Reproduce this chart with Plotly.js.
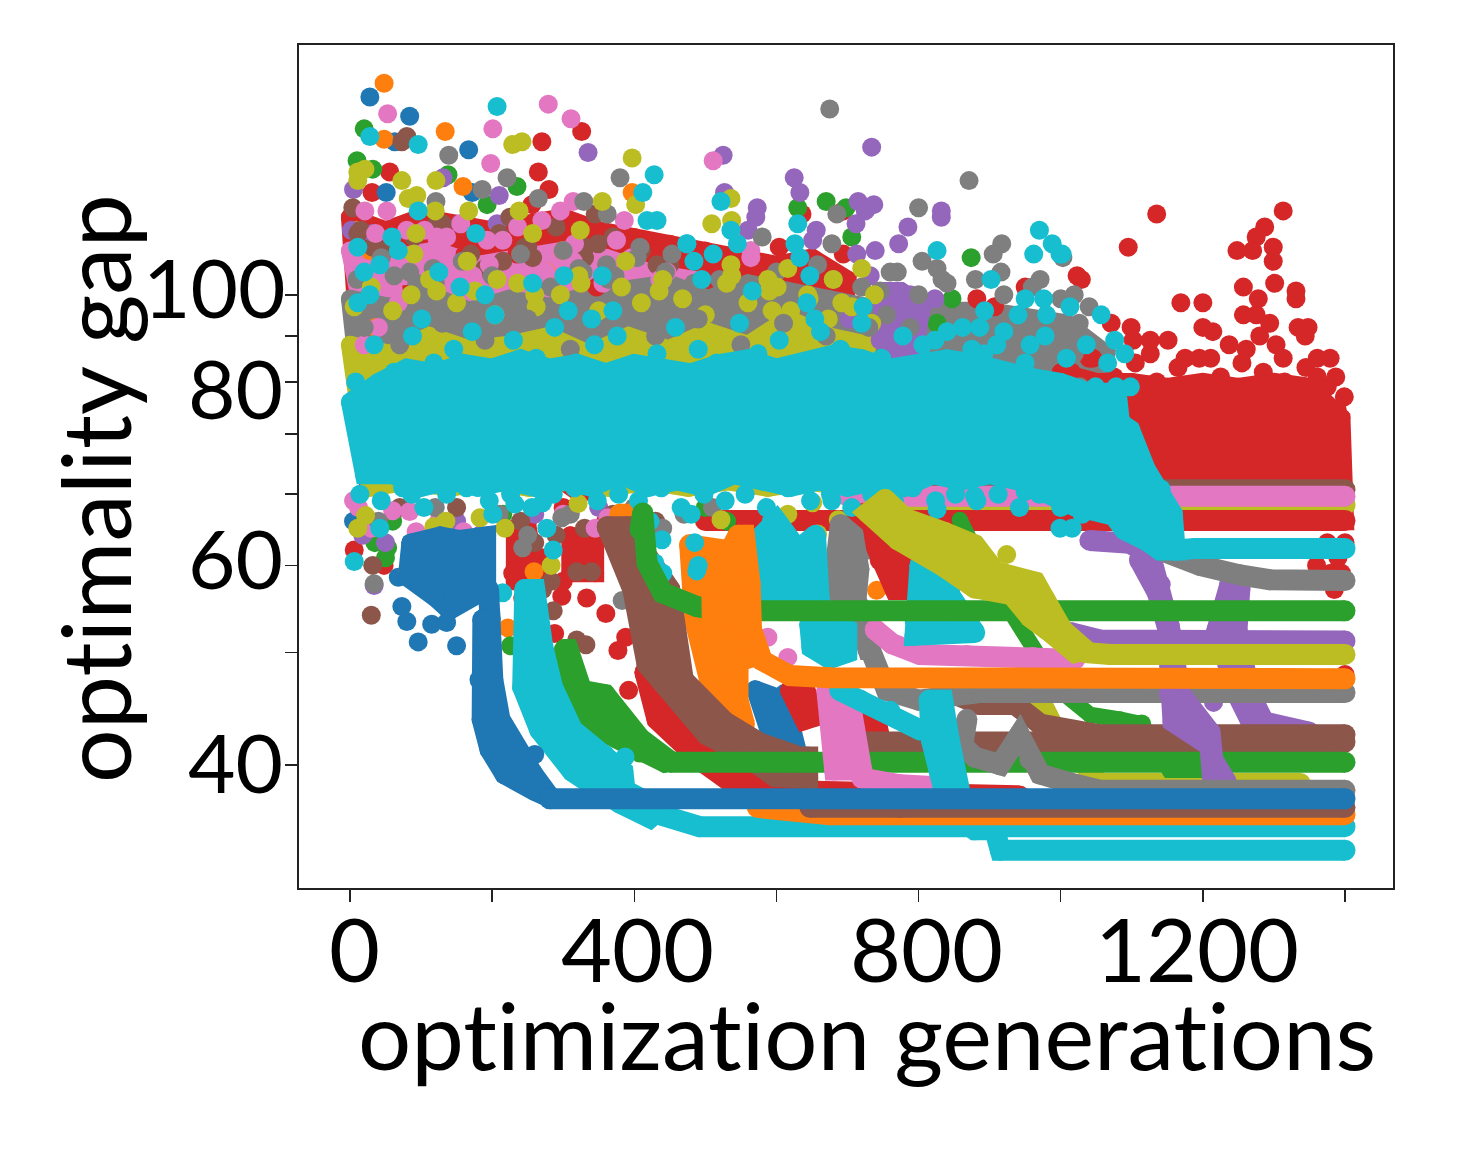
<!DOCTYPE html>
<html><head><meta charset="utf-8"><script src="https://cdn.plot.ly/plotly-3.0.1.min.js"></script>
<style>html,body{margin:0;padding:0;background:#fff} svg text{font-variant-ligatures:none;font-feature-settings:"liga" 0}</style></head><body><div id="chart"></div>
<script>
const xTickVals=[0,200,400,600,800,1000,1200,1400];
const yTickVals=[30,40,50,60,70,80,90,100];
const xLabels=['0','400','800','1200'];
const yLabels=['100','80','60','40'];
const xAxisTitle='optimization generations';
const yAxisTitle='optimality gap';
const C={blue:'#1f77b4',orange:'#ff7f0e',green:'#2ca02c',red:'#d62728',purple:'#9467bd',brown:'#8c564b',pink:'#e377c2',gray:'#7f7f7f',olive:'#bcbd22',cyan:'#17becf'};

// envelopes of the crowded generations (alternating upper and lower reading)
const redFillX=[0,25,50,75,100,125,150,175,200,225,250,275,300,325,350,375,400,425,450,475,500,525,550,575,600,625,650,675,700];
const redFillY=[122,62,118,64,122,62,120,66,118,62,120,64,122,60,118,64,116,62,114,64,112,62,110,65,108,62,110,64,104];
const redLowAX=[232,250,232,265];const redLowAY=[55,55,48,48];
const redLowBX=[310,345,310,345];const redLowBY=[54,53,49,49];
const pinkFillX=[0,30,60,90,120,150,180,210,240,270,300,330,360,390,420,450,480];
const pinkFillY=[112,86,110,84,112,85,108,86,110,84,112,85,110,86,106,85,104];
const grayFillX=[0,28,56,84,112,140,168,196,224,252,280,308,336,364,392,420,448,476,504,532,560,588,616,644,672,700,728,756,784,812,840,868,896,924,952,980,1008,1036,1064];
const grayFillY=[99,62,97,63,100,62,96,64,99,62,97,63,100,62,101,64,103,62,99,63,103,62,101,64,99,62,97,63,99,62,96,64,96,62,94,64,93,66,86];
const oliveFillX=[0,28,56,84,112,140,168,196,224,252,280,308,336,364,392,420,448,476,504,532,560,588,616,644,672,700,728];
const oliveFillY=[88,61,86,62,90,61,87,62,88,61,90,62,86,61,90,62,87,61,91,62,88,61,94,62,90,61,88];
const purpleFillX=[745,760,775,790,805];
const purpleFillY=[101,85,101,84,97];
const redBandX=[1000,1025,1050,1075,1100,1125,1150,1175,1200,1225,1250,1275,1300,1325,1350,1375,1395,1400];
const redBandY=[82,56,80,56,80,56,79,56,80,56,79,56,80,56,79,56,73,56];
const redEndX=[1360,1380,1390,1400,1395,1385,1400,1375];
const redEndY=[50,49,51,53,49,47,37.8,53];

// scattered points per colour
const redDotsX=[270,326,265,280,56,31,256,235,636,694,604,694,882,1023,950,907,162,235,56,87,347,6,48,162,243,298,333,265,288,360,377,392,388,229,536,536,1135,1095,1029,1313,1287,1275,1248,1270,1299,1299,1301,1331,1331,1257,1278,1169,1200,1257,1275,1294,1200,1214,1334,1348,1344,1237,1099,1071,1102,1126,1151,1126,1175,1211,1261,1280,1303,1313,1361,1379,1387,1399,1040,1389,1361];
const redDotsY=[148,152,137,131,137,130,126,118,123,124,113,111,99,105,102,97,111,111,113,102,102,52,50,47.6,46,46.2,46,42,42,44.2,40.2,36.3,41.6,49,34.9,33.8,123,113,104,124,119,116,112,112,113,109,103,101,99,102,99,98,98,95,95,93,92,91,92,92,90,88,92,93,89,89,89,86,85,85,87,90,88,85,85,85,81,77,85,74.5,81];
const redEdgeX=[1015,1045,1075,1105,1135,1165,1195,1225,1255,1285,1315,1345,1375];
const redEdgeY=[82,85,81,84,80,83,85,81,84,82,80,83,79];
const redLowMixX=[250,270,300,330,360,300,340];
const redLowMixY=[56,51,58,52,56,48,50];
const blueDotsX=[28,84,63,167,51,172,5,73,80,96,115,136,150,68,611];
const blueDotsY=[166,158,148,145,130,130,56,45,43.3,41.1,43,43.2,40.7,48.5,36];
const orangeDotsX=[48,134,159,397,48,277,10,28,222,259,369,741,36,300];
const orangeDotsY=[172,152,132,130,149,106,118,112,42.6,49.2,53.7,46.9,92,112];
const greenDotsX=[20,10,32,138,235,193,670,698,706,630,874,847,826,53,226,1114];
const greenDotsY=[153,141,138,136,132,126,127,125,116,125,110,99,93,52.3,40.7,33.3];
const greenLowX=[35,50,60,215,400,500,530];
const greenLowY=[53,51,56,57,58,58,56];
const purpleDotsX=[335,131,210,5,155,207,32,2,525,734,625,633,527,573,571,560,656,651,715,737,725,712,785,772,832,832,739,713,732,788,823,774,746,788,703,34,183,183,1215];
const purpleDotsY=[144,135,129,131,120,120,117,118,143,146,135,130,130,125,122,118,118,115,127,126,124,120,119,114,124,122,112,111,105,100,99,97,89,90,94,47.5,54,52,35.2];
const purpleLowX=[18,50,150,183,260,350];
const purpleLowY=[54,53,56,54,57,58];
const brownDotsX=[73,80,4,11,32,215,331,345,225,246,257,432,122,190,349,30,32,319,340,286,319,332,271,283];
const brownDotsY=[148,150,125,117,113,109,113,123,122,113,110,108,120,107,114,44,50,49.2,49.2,44.5,41.3,40.8,47,48];
const brownMixX=[15,48,90,130,170,210,250,290,330,370,410,450];
const brownMixY=[118,112,116,120,111,117,113,119,110,116,112,108];
const brownLowX=[70,150,240,260,290,330,370,430];
const brownLowY=[58,58,56,53,54,55,57,56];
const pinkDotsX=[53,201,198,279,311,386,296,314,270,21,52,511,564,564,193,215,122,136,80,105,173,68,314,375,446,93,84,5,363,400,619,611,588,616,20,40];
const pinkDotsY=[159,153,140,163,157,121,124,127,121,124,124,141,112,110,115,115,116,116,118,118,105,98,109,115,106,54.5,57.4,59,56.5,55,31,35.4,41.6,39.5,88,92];
const pinkMixX=[5,36,76,116,156,196,236,276,316,356,396,436];
const pinkMixY=[110,117,105,112,120,108,119,106,114,103,110,104];
const pinkLowX=[12,30,60,95,125,160,300,345,390,430];
const pinkLowY=[58,55,57.5,53,56,54.5,57,55,56,54];
const grayDotsX=[675,871,800,685,580,678,917,905,916,1003,805,826,833,658,971,139,380,221,186,265,329,121,362,408,453,94,62,117,300,328,361,373,243,81,34,383,401,298,755,746,770,788,1019,1026,1027,1019,1027,729,757];
const grayDotsY=[161,134,125,123,116,114,114,111,106,110,109,107,104,108,104,143,135,135,131,128,127,127,123,113,111,103,105,107,112,106,108,105,52.3,49.2,47.7,45.7,57,56.5,95,101,106,92,100,93,89,86,79,52,52.7];
const grayEdgeX=[10,44,84,120,158,200,240,282,322,364,404,444,484,520,560,600,640,680,720,760,800,840,880,920,960,1000,1040];
const grayEdgeY=[104,110,106,103,109,105,111,102,107,104,110,106,103,104,101,106,100,104,102,106,100,103,104,100,102,99,97];
const grayLowX=[40,120,210,250,310,400,440,470,510];
const grayLowY=[56,58,57,54,57,58,55,57,58];
const oliveDotsX=[397,229,242,11,11,21,73,121,82,94,167,120,402,355,238,93,257,324,90,165,388,207,325,435,260,122,536,537,509,536,537,588,601,616,720,644,692,594,619,734,673,11,22,124,118,135,183,218,129,187,283,321,522,630,658,616,687,651,924];
const oliveDotsY=[142,147,148,134,137,138,134,134,128,129,124,124,126,127,124,117,117,118,111,109,109,104,103,101,100,101,128,121,120,108,105,104,102,107,107,100,98,96,95,93,94,55,56.8,53.4,55.2,56,56.5,55,48.6,48.6,50,58.6,56.2,52.3,54.2,57,56.2,58.7,51.4];
const oliveEdgeX=[6,30,60,86,112,150,176,204,236,262,296,322,350,382,410,440,468,500,530,560,590,620,646,680,706,738];
const oliveEdgeY=[97,102,96,100,104,98,101,95,103,97,100,105,96,102,98,104,99,95,103,98,101,96,99,104,97,100];
const grayOverX=[20,70,130,190,250,310,370,430,490,550,610,670,730];
const grayOverY=[92,88,93,89,94,87,92,90,94,88,93,90,92];
const cyanDotsX=[207,428,412,96,28,432,418,96,177,59,11,68,42,20,125,474,257,301,355,370,155,190,340,307,204,101,28,11,522,536,474,484,511,545,630,626,633,647,495,566,643,654,722,826,962,970,988,1002,902,893,950,976,1013,940,886,840,823,875,910,957,980,1057,1076,1049,1078,1098,999,42,6,277,286,232,201,271,87,439,429,440,422,488,215,826,999,1016,879,950,593,678,485,480,490,359,387];
const cyanDotsY=[162,136,130,147,150,121,121,124,117,116,113,112,108,106,106,114,103,105,105,96,102,100,94,96,95,94,100,98,127,118,114,109,111,114,120,114,110,105,104,101,98,94,97,112,111,118,114,111,104,96,99,99,97,95,92,91,89,87,88,88,95,95,89,79,79,79,111,55,50.5,55,52,58.5,57,58.7,60,53.4,50.3,49,56,49.3,46.6,57.7,55,55,59.7,60.4,56,59,53,57,50,30.8,30.6];
const cyanTopX=[8,34,62,88,118,146,172,204,230,262,288,318,344,376,402,432,458,490,516,548,574,604,632,662,690,720,748,778,806,836,862,892,920,950,978,1008,1036,1066,1090];
const cyanTopY=[80,88,82,90,84,87,91,83,89,85,92,84,88,90,83,86,92,87,84,93,86,89,84,91,87,93,85,90,88,83,92,86,91,84,90,85,88,84,86];
const cyanBottomX=[14,44,74,104,136,164,196,226,256,286,316,348,378,406,438,466,498,528,556,586,616,648,676,706,734,766,792,824,852,882,912,942,970,1000,1030];
const cyanBottomY=[60,59,61,58,60,61,59,60,58,60,61,59,60,59,61,58,60,59,60,58,61,59,60,58,60,59,61,59,60,59,60,58,60,58,57];
const cyanBandX=[0,20,40,60,80,100,120,140,160,180,200,220,240,260,280,300,320,340,360,380,400,420,440,460,480,500,520,540,560,580,600,620,640,660,680,700,720,740,760,780,800,820,840,860,880,900,920,940,960,980,1000,1020,1040,1060,1080,1100];
const cyanBandY=[76,63,80,63,83,61,82,62,84,61,83,62,85,61,83,62,84,61,82,63,84,61,83,62,82,61,84,63,85,62,83,61,84,62,86,61,85,62,83,61,84,63,85,62,84,63,82,62,81,60,80,58,78,57,78,56];

// plateaus and the runs that lead to them
const oliveAX=[800,1400];const oliveAY=[58.4,58.4];
const redAX=[500,1400];const redAY=[56.1,56.1];
const brownAX=[700,1400];const brownAY=[60.7,60.7];
const pinkAX=[700,1400];const pinkAY=[59.7,59.7];
const blueBlobX=[85,80,127,120,155,140,193,193];
const blueBlobY=[53,48.5,54,46,53.5,44.5,54,47];
const bluePatchX=[570,591,612,633];
const bluePatchY=[36.4,32.4,35.4,30.4];
const orangeStripX=[380,401,415,420];const orangeStripY=[57,57,49.4,49.4];
const orangeZigX=[478,527,485,546,513,546,552,555];
const orangeZigY=[52.7,52,43.5,43.5,35.4,35.4,33.3,33.3];
const olive2X=[971,992,1055,1337];const olive2Y=[35.4,32.8,28.6,28.6];
const green2X=[858,893,999,1041,1083,1114,1153,1200];
const green2Y=[56.2,49.4,36.3,34.1,33.7,33.3,29.6,29.6];
const redRunX=[415,429,432,458,492,520,541,591];
const redRunY=[38,38,33.7,35.4,30.4,30,28.5,28.5];
const redRunTailX=[591,942];const redRunTailY=[28.1,27.7];
const redRun2X=[720,746,746,781,767,791];
const redRun2Y=[57,57.7,50.7,51.4,47,47];
const redPatchAX=[620,640,640,655];const redPatchAY=[36.3,36.3,33.7,34];
const redPatchBX=[718,742,718,750];const redPatchBY=[33.7,33,31.5,31];
const purpleRightX=[1238,1252,1220,1248,1248,1266,1266,1284];
const purpleRightY=[47.6,47,42.4,42.4,36,36,33.7,33.7];
const purpleRightTailX=[1284,1350];const purpleRightTailY=[33.5,32.6];
const brownRunX=[362,390,398,450,418,469,502,527,555,577,598,633,644,644];
const brownRunY=[55.2,55.2,47,47,38.8,37.3,32.4,33.5,30.8,31.7,29.1,30.6,29,30.6];
const brown3X=[837,886,936,971,1055,1400];const brown3Y=[36.3,35,35,33.3,32.4,32.4];
const brownBarX=[718,1400];const brownBarY=[31.8,31.8];
const greenRunX=[302,307,310,326,352,359,408,408,443,450];
const greenRunY=[40.3,40.3,35.4,36.3,32.8,35.9,31,32.1,30.2,30.3];
const greenRunTailX=[450,1400];const greenRunTailY=[30.2,30.2];
const gray692X=[732,755,800,886,1400];const gray692Y=[40.3,36.3,35.4,36.1,36.1];
const grayBlobX=[690,708,682,716,688,712,718,727,729,732];
const grayBlobY=[55.5,54,49,49.5,45.8,45.8,42.9,42.9,40.3,40.3];
const grayTailX=[1140,1196,1252,1294,1400];const grayTailY=[52,50,48.8,48.2,48.1];
const purpleLeadX=[1041,1097,1126];const purpleLeadY=[53.3,52.9,51.4];
const purpleAX=[1111,1126,1136,1140,1150,1153,1153,1168,1158,1210,1210,1214,1214,1233];
const purpleAY=[50.7,51.4,46.6,47.6,42.7,42.7,36,36,33.5,32.6,31.5,30.4,28.7,28.7];
const purpleTailX=[1013,1055,1400];const purpleTailY=[42.1,41.3,41.2];
const cyanTailX=[1076,1069,1097,1090,1119,1119,1140,1140,1157,1161];
const cyanTailY=[72.6,57.7,70.7,54.8,63.9,53.4,60.7,52,57,52];
const cyanTailEndX=[1161,1189,1400];const cyanTailEndY=[52,52.2,52.2];
const pinkUpperX=[739,763,802,868,961,1020];const pinkUpperY=[42.4,40.9,39.8,39.7,39.5,39.3];
const pinkLowerX=[671,703,678,710,682,720];
const pinkLowerY=[36.3,35.4,32.8,32.8,29.6,29.6];
const pinkLowerTailX=[720,774,844];const pinkLowerTailY=[29,28.5,28.3];
const grayRunX=[868,862,879,915,942,957,971,1009,1055,1400];
const grayRunY=[33.7,31.5,30.6,30,32.4,30.4,29.3,28.7,28.1,28.1];
const cyanBlobAX=[570,577,600,605,630,633,655,660];
const cyanBlobAY=[53,47,56,46,52,45.8,54,46];
const cyanBlobBX=[647,650,670,675,699,699];const cyanBlobBY=[43,40.5,44,39.4,42.5,40];
const cyanStrandX=[689,718,760,802];const cyanStrandY=[36.3,35.4,34.4,32.8];
const cyanMidX=[802,816,795,844,795,879];const cyanMidY=[50,50,43.5,47,41.8,42.1];
const cyanRun1X=[246,260,246,271,243,285,267,313,313,384,380,387,422,436];
const cyanRun1Y=[47,47,40.7,40.7,36.6,36.6,32.8,32.8,29.5,29.5,27.2,28.1,26.2,26.8];
const cyanRun1TailX=[436,492,1400];const cyanRun1TailY=[26.4,25.6,25.6];
const cyanRun2X=[815,834,818,843,829,850,843,863,879,907];
const cyanRun2Y=[35.4,35.4,32,32,29.5,29.5,26.8,26.8,25.4,25.4];
const cyanRun2TailX=[907,915,1400];const cyanRun2TailY=[25.4,24.1,24.1];
const orange3X=[573,675,1400];const orange3Y=[26.9,26.4,26.4];
const brown4X=[647,774,1400];const brown4Y=[26.9,26.9,26.9];
const greenTailX=[408,412,418,440,488,520,1400];
const greenTailY=[54.8,57.2,50.3,46.6,45,44.5,44.5];
const oliveRunX=[753,729,781,771,837,833,879,879,908,931,964,957,978,981,1002,1020,1034];
const oliveRunY=[59.2,57.2,56.4,53.4,54.4,50,52.7,47.2,49.2,46.4,47.9,43.8,45.8,42.4,42.4,40,40.3];
const oliveTailX=[1034,1069,1400];const oliveTailY=[40,39.8,39.8];
const orangeRunX=[546,555,509,563,510,565,531,577];
const orangeRunY=[54,54,47.6,47.6,42.4,42.4,38.8,39.8];
const orangeTailX=[577,619,675,1400];const orangeTailY=[39.3,37.7,37.5,37.4];
const blueRunX=[187,197,183,201,186,211,197,239,218,257,260,281];
const blueRunY=[43.5,43.5,37.3,37.3,33.7,33.7,31.2,30.8,29.3,29.3,28.1,27.6];
const blueTailX=[281,1400];const blueTailY=[27.5,27.5];
const blueJoinX=[195,197];const blueJoinY=[47,43.5];
const blueBumpX=[260];const blueBumpY=[30.8];

const dots=(color,x,y)=>({color,x,y,kind:'dots'});
const line=(color,x,y,w=21)=>({color,x,y,kind:'line',w});
const area=(color,x,y,w=21)=>({color,x,y,kind:'area',w});
const stack=[
 area(C.red,redFillX,redFillY,18),
 area(C.red,redLowAX,redLowAY,18),area(C.red,redLowBX,redLowBY,18),
 dots(C.red,redLowMixX,redLowMixY),
 area(C.pink,pinkFillX,pinkFillY,18),
 area(C.gray,grayFillX,grayFillY,18),
 area(C.olive,oliveFillX,oliveFillY,18),
 area(C.red,redBandX,redBandY,18),
 dots(C.red,redEdgeX,redEdgeY),
 dots(C.red,redEndX,redEndY),
 dots(C.red,redDotsX,redDotsY),
 line(C.olive,oliveAX,oliveAY),line(C.red,redAX,redAY),line(C.brown,brownAX,brownAY),line(C.pink,pinkAX,pinkAY),
 dots(C.blue,blueDotsX,blueDotsY),
 dots(C.orange,orangeDotsX,orangeDotsY),
 dots(C.green,greenDotsX,greenDotsY),
 dots(C.green,greenLowX,greenLowY),
 area(C.purple,purpleFillX,purpleFillY,18),
 dots(C.purple,purpleDotsX,purpleDotsY),
 dots(C.purple,purpleLowX,purpleLowY),
 dots(C.brown,brownDotsX,brownDotsY),
 dots(C.brown,brownMixX,brownMixY),
 dots(C.brown,brownLowX,brownLowY),
 dots(C.pink,pinkDotsX,pinkDotsY),
 dots(C.pink,pinkMixX,pinkMixY),
 dots(C.pink,pinkLowX,pinkLowY),
 dots(C.gray,grayDotsX,grayDotsY),
 dots(C.gray,grayEdgeX,grayEdgeY),
 dots(C.gray,grayLowX,grayLowY),
 dots(C.olive,oliveDotsX,oliveDotsY),
 dots(C.olive,oliveEdgeX,oliveEdgeY),
 dots(C.gray,grayOverX,grayOverY),
 area(C.blue,blueBlobX,blueBlobY,18),
 area(C.blue,bluePatchX,bluePatchY,18),
 area(C.orange,orangeStripX,orangeStripY),
 area(C.orange,orangeZigX,orangeZigY),
 line(C.olive,olive2X,olive2Y),
 line(C.green,green2X,green2Y,16),
 area(C.red,redRunX,redRunY),line(C.red,redRunTailX,redRunTailY),
 area(C.red,redRun2X,redRun2Y),
 area(C.red,redPatchAX,redPatchAY),area(C.red,redPatchBX,redPatchBY),
 area(C.purple,purpleRightX,purpleRightY),line(C.purple,purpleRightTailX,purpleRightTailY),
 area(C.brown,brownRunX,brownRunY),
 line(C.brown,brown3X,brown3Y),
 line(C.brown,brownBarX,brownBarY),
 area(C.green,greenRunX,greenRunY),line(C.green,greenRunTailX,greenRunTailY),
 line(C.gray,gray692X,gray692Y),
 area(C.gray,grayBlobX,grayBlobY),
 line(C.purple,purpleLeadX,purpleLeadY),
 area(C.purple,purpleAX,purpleAY),
 line(C.purple,purpleTailX,purpleTailY),
 line(C.gray,grayTailX,grayTailY),
 area(C.cyan,cyanBandX,cyanBandY,18),
 dots(C.cyan,cyanTopX,cyanTopY),
 dots(C.cyan,cyanBottomX,cyanBottomY),
 dots(C.cyan,cyanDotsX,cyanDotsY),
 area(C.cyan,cyanTailX,cyanTailY),line(C.cyan,cyanTailEndX,cyanTailEndY),
 line(C.pink,pinkUpperX,pinkUpperY),
 area(C.pink,pinkLowerX,pinkLowerY),line(C.pink,pinkLowerTailX,pinkLowerTailY),
 line(C.gray,grayRunX,grayRunY),
 area(C.cyan,cyanBlobAX,cyanBlobAY),area(C.cyan,cyanBlobBX,cyanBlobBY),
 line(C.cyan,cyanStrandX,cyanStrandY),
 area(C.cyan,cyanMidX,cyanMidY),
 area(C.cyan,cyanRun1X,cyanRun1Y),line(C.cyan,cyanRun1TailX,cyanRun1TailY),
 area(C.cyan,cyanRun2X,cyanRun2Y),line(C.cyan,cyanRun2TailX,cyanRun2TailY),
 line(C.orange,orange3X,orange3Y),
 line(C.brown,brown4X,brown4Y),
 line(C.green,greenTailX,greenTailY),
 area(C.olive,oliveRunX,oliveRunY),line(C.olive,oliveTailX,oliveTailY),
 area(C.orange,orangeRunX,orangeRunY),line(C.orange,orangeTailX,orangeTailY),
 line(C.blue,blueJoinX,blueJoinY),
 dots(C.blue,blueBumpX,blueBumpY),
 area(C.blue,blueRunX,blueRunY),line(C.blue,blueTailX,blueTailY)
];
// an envelope is read as upper and lower values in turn; walk one side, then back along the other
const outline=a=>{const e=a.filter((_,i)=>i%2===0),o=a.filter((_,i)=>i%2===1).reverse();return [...e,...o,e[0]];};
const data=stack.map(s=>{
 const base={type:'scatter',hoverinfo:'skip',showlegend:false,cliponaxis:false};
 if(s.kind==='dots') return {...base,mode:'markers',x:s.x,y:s.y,marker:{color:s.color,size:19}};
 if(s.kind==='line') return {...base,mode:'lines+markers',x:s.x,y:s.y,line:{color:s.color,width:s.w},marker:{color:s.color,size:s.w}};
 return {...base,mode:'lines+markers',x:outline(s.x),y:outline(s.y),fill:'toself',fillcolor:s.color,line:{color:s.color,width:s.w},marker:{color:s.color,size:s.w}};
});

const L=299,T=45,W=1094,H=843;
const px=v=>(v-L)/W, py=v=>(T+H-v)/H;
const font={family:'Lato, sans-serif',color:'#000'};
const note=(text,x,y,size,extra={})=>Object.assign({text,xref:'paper',yref:'paper',x:px(x),y:py(y),xanchor:'center',yanchor:'middle',showarrow:false,font:Object.assign({size},font)},extra);
const annotations=[
 note(xLabels[0],354,948,88),note(xLabels[1],637,948,88),note(xLabels[2],926,948,88),note(xLabels[3],1197,948,88),
 note(yLabels[0],214,286,82),note(yLabels[1],235,387,82),note(yLabels[2],235,557,82),note(yLabels[3],235,761,82),
 note(xAxisTitle,867,1033,94),
 note(yAxisTitle,94,489,95,{textangle:-90})
];
const layout={width:1472,height:1156,margin:{l:L,r:1472-L-W,t:T,b:1156-T-H,pad:0},paper_bgcolor:'#fff',plot_bgcolor:'#fff',showlegend:false,
 xaxis:{range:[-71.7,1467.5],tickmode:'array',tickvals:xTickVals,showticklabels:false,ticks:'outside',ticklen:12,tickwidth:1.5,tickcolor:'#222',showline:true,mirror:true,linecolor:'#222',linewidth:2,showgrid:false,zeroline:false,automargin:false},
 yaxis:{type:'log',range:[1.340,2.278],tickmode:'array',tickvals:yTickVals,showticklabels:false,ticks:'outside',ticklen:12,tickwidth:1.5,tickcolor:'#222',showline:true,mirror:true,linecolor:'#222',linewidth:2,showgrid:false,zeroline:false,automargin:false},
 annotations};
Plotly.newPlot('chart',data,layout,{displayModeBar:false,staticPlot:true});
</script></body></html>
